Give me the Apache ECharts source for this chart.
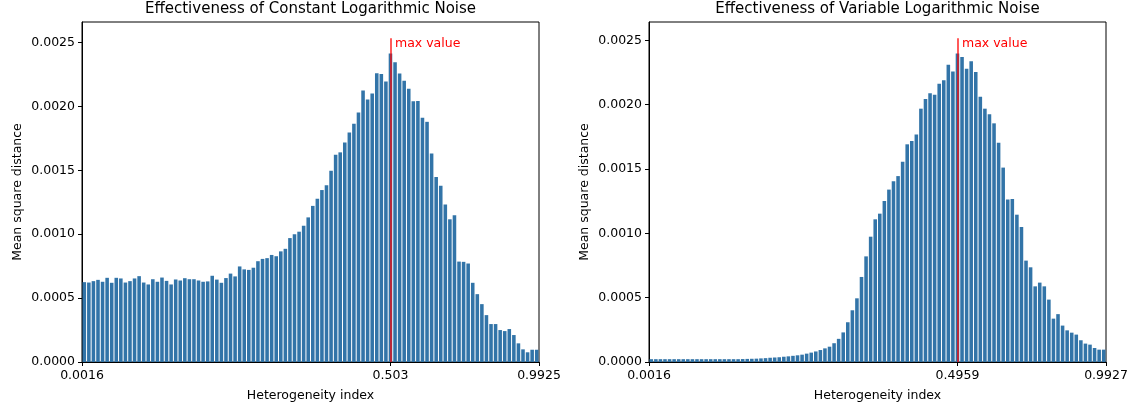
<!DOCTYPE html>
<html>
<head>
<meta charset="utf-8">
<script src="https://cdn.jsdelivr.net/npm/echarts@6/dist/echarts.min.js"></script>
<style>html,body{margin:0;padding:0;background:#fff}#c{width:1136px;height:409px}</style>
</head>
<body>
<div id="c"></div>
<script>
// ---- data ----
const leftTitle = 'Effectiveness of Constant Logarithmic Noise';
const rightTitle = 'Effectiveness of Variable Logarithmic Noise';
const xName = 'Heterogeneity index';
const yName = 'Mean square distance';
const maxLabel = 'max value';

const leftValues = [
  0.000625,0.000622,0.000633,0.000643,0.000628,0.000659,0.000620,0.000659,0.000654,0.000622,
  0.000633,0.000654,0.000672,0.000622,0.000607,0.000648,0.000628,0.000661,0.000635,0.000607,
  0.000646,0.000638,0.000656,0.000648,0.000648,0.000638,0.000628,0.000631,0.000675,0.000645,
  0.000620,0.000657,0.000692,0.000670,0.000748,0.000725,0.000721,0.000738,0.000789,0.000807,
  0.000813,0.000838,0.000828,0.000866,0.000886,0.000970,0.001000,0.001020,0.001067,0.001132,
  0.001222,0.001278,0.001346,0.001383,0.001497,0.001622,0.001641,0.001719,0.001797,0.001865,
  0.001953,0.002125,0.002055,0.002102,0.002260,0.002255,0.002195,0.002414,0.002346,0.002258,
  0.002201,0.002138,0.002041,0.002044,0.001911,0.001880,0.001633,0.001448,0.001380,0.001232,
  0.001117,0.001148,0.000786,0.000784,0.000771,0.000620,0.000531,0.000453,0.000367,0.000297,
  0.000297,0.000250,0.000242,0.000258,0.000211,0.000146,0.000099,0.000076,0.000096,0.000096
];
const rightValues = [
  0.000022,0.000022,0.000022,0.000022,0.000022,0.000022,0.000022,0.000022,0.000022,0.000022,
  0.000022,0.000022,0.000022,0.000022,0.000022,0.000022,0.000022,0.000022,0.000022,0.000022,
  0.000023,0.000024,0.000025,0.000026,0.000028,0.000030,0.000033,0.000035,0.000037,0.000041,
  0.000044,0.000048,0.000052,0.000057,0.000065,0.000073,0.000082,0.000093,0.000106,0.000119,
  0.000146,0.000180,0.000230,0.000309,0.000402,0.000495,0.000661,0.000821,0.000974,0.001109,
  0.001153,0.001251,0.001340,0.001404,0.001445,0.001557,0.001692,0.001717,0.001769,0.001969,
  0.002044,0.002088,0.002078,0.002163,0.002189,0.002311,0.002257,0.002397,0.002370,0.002280,
  0.002337,0.002254,0.002062,0.001969,0.001925,0.001855,0.001705,0.001511,0.001264,0.001266,
  0.001145,0.001049,0.000788,0.000736,0.000588,0.000617,0.000588,0.000485,0.000337,0.000372,
  0.000283,0.000246,0.000228,0.000213,0.000169,0.000143,0.000135,0.000109,0.000096,0.000096
];
const leftTickLabels = ['0.0016', '0.503', '0.9925'];
const rightTickLabels = ['0.0016', '0.4959', '0.9927'];
const yTickValues = [0, 0.0005, 0.0010, 0.0015, 0.0020, 0.0025];

// ---- chart ----
const FONT = 'DejaVu Sans';
const BAR = '#3274a8';
const chart = echarts.init(document.getElementById('c'), null, {renderer: 'canvas'});

const grids = [
  {left: 82, width: 457, top: 22, height: 340},
  {left: 649, width: 457, top: 22, height: 340}
];
const panels = [
  {values: leftValues, labels: leftTickLabels, title: leftTitle},
  {values: rightValues, labels: rightTickLabels, title: rightTitle}
];

const option = {
  animation: false,
  backgroundColor: '#fff',
  title: [], grid: [], xAxis: [], yAxis: [], series: []
};

panels.forEach((p, g) => {
  const n = p.values.length;
  const cats = p.values.map((_, i) => i);
  let argmax = 0;
  p.values.forEach((v, i) => { if (v > p.values[argmax]) argmax = i; });
  const maxV = p.values[argmax];
  const lineTop = maxV * 1.05;
  const yMax = lineTop * 1.05;
  const tickPos = [0, argmax + 0.5, n];

  const gr = grids[g];
  option.grid.push(Object.assign({show: true, borderColor: '#000', borderWidth: 1, containLabel: false}, gr));
  option.title.push({
    text: p.title, left: gr.left + gr.width / 2, top: 2, textAlign: 'center', padding: 0,
    textStyle: {fontFamily: FONT, fontSize: 15, fontWeight: 'normal', color: '#000'}
  });
  option.xAxis.push({
    type: 'category', gridIndex: g, data: cats, show: false, boundaryGap: true
  });
  option.xAxis.push({
    type: 'value', gridIndex: g, min: 0, max: n, position: 'bottom',
    axisLine: {show: true, lineStyle: {color: '#000', width: 1}},
    axisTick: {show: true, customValues: tickPos, length: 4, lineStyle: {color: '#000', width: 1}},
    axisLabel: {
      show: true, customValues: tickPos, margin: 7,
      fontFamily: FONT, fontSize: 12.5, color: '#000',
      formatter: v => { const k = tickPos.indexOf(v); return k >= 0 ? p.labels[k] : ''; }
    },
    splitLine: {show: false},
    name: xName, nameLocation: 'middle', nameGap: 27,
    nameTextStyle: {fontFamily: FONT, fontSize: 12.5, color: '#000'}
  });
  option.yAxis.push({
    type: 'value', gridIndex: g, min: 0, max: yMax,
    axisLine: {show: true, lineStyle: {color: '#000', width: 1}},
    axisTick: {show: true, customValues: yTickValues, length: 4, lineStyle: {color: '#000', width: 1}},
    axisLabel: {
      show: true, customValues: yTickValues, margin: 7,
      fontFamily: FONT, fontSize: 12.5, color: '#000',
      formatter: v => v.toFixed(4)
    },
    splitLine: {show: false},
    name: yName, nameLocation: 'middle', nameGap: 58,
    nameTextStyle: {fontFamily: FONT, fontSize: 12.5, color: '#000'}
  });
  option.series.push({
    type: 'bar', xAxisIndex: g * 2, yAxisIndex: g, data: p.values,
    barCategoryGap: '22%',
    itemStyle: {color: BAR},
    markLine: {
      silent: true, symbol: ['none', 'none'],
      lineStyle: {color: 'rgba(255,0,0,0.72)', width: 1.8, type: 'solid'},
      label: {show: false},
      data: [[{coord: [argmax, 0]}, {coord: [argmax, lineTop]}]]
    },
    markPoint: {
      silent: true,
      symbol: 'circle', symbolSize: 1,
      itemStyle: {color: 'rgba(0,0,0,0)'},
      label: {
        show: true, position: 'right', distance: 4, offset: [0, 6],
        formatter: maxLabel, color: '#ff0000', fontFamily: FONT, fontSize: 12.5
      },
      data: [{coord: [argmax, lineTop]}]
    }
  });
});

chart.setOption(option);
</script>
</body>
</html>
